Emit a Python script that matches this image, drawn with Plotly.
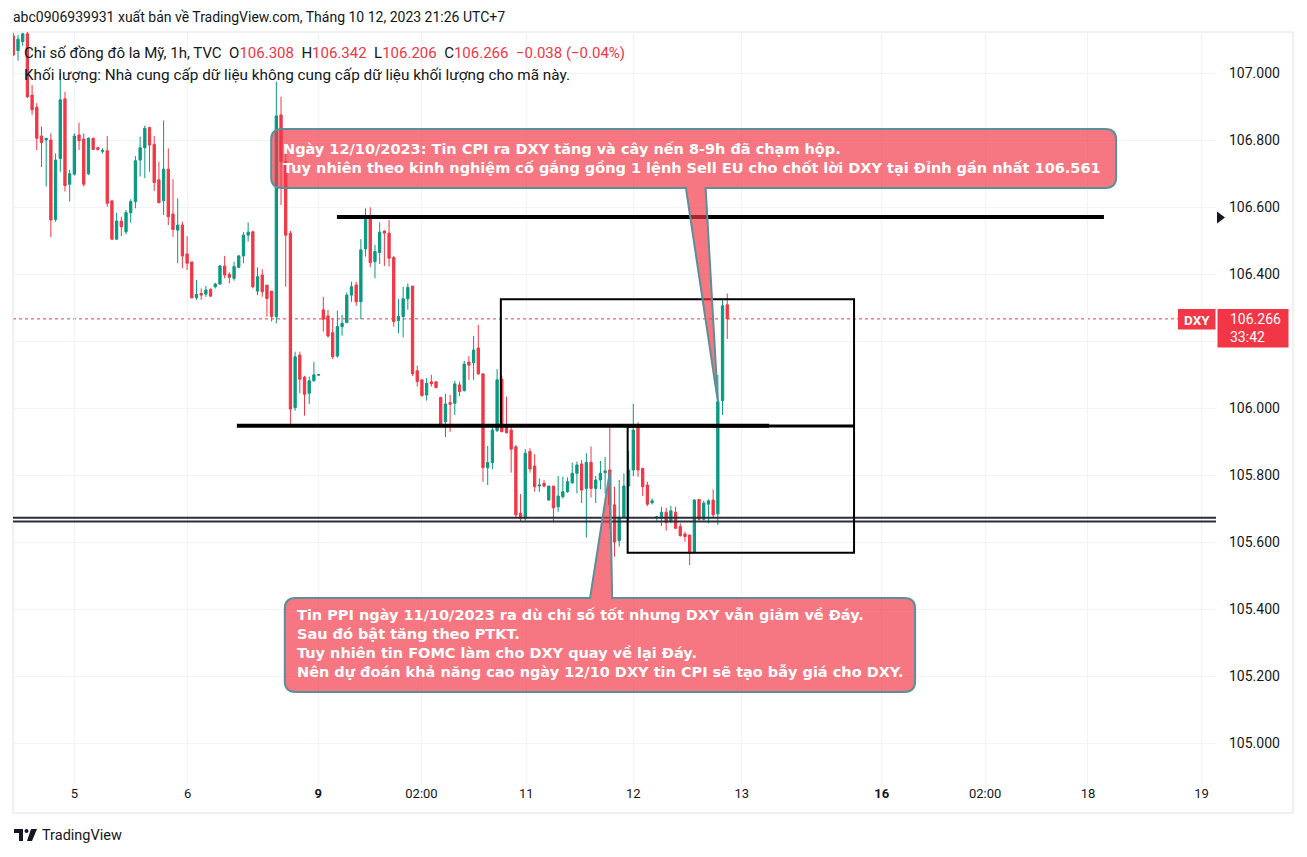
import plotly.graph_objects as go

# ---------------- data ----------------
opens = [107.111,107.067,107.094,107.117,106.934,106.898,106.812,106.800,106.800,106.563,
         106.745,106.923,106.668,106.698,106.815,106.803,106.699,106.805,106.777,106.766,
         106.768,106.618,106.504,106.558,106.526,106.583,106.616,106.740,106.777,106.837,
         106.787,106.681,106.619,106.713,106.579,106.531,106.546,106.460,106.436,106.329,
         106.342,106.340,106.354,106.362,106.370,106.424,106.399,106.387,106.420,106.454,
         106.516,106.526,106.349,106.397,106.367,106.349,106.273,106.875,106.735,106.522,
         106.001,106.158,106.092,106.044,106.081,106.098,106.293,106.275,106.225,106.155,
         106.243,106.255,106.337,106.367,106.317,106.475,106.573,106.437,106.464,106.528,
         106.522,106.449,106.261,106.273,106.326,106.364,106.111,106.084,106.039,106.078,
         106.078,106.032,105.959,106.016,106.014,106.069,106.052,106.137,106.135,106.179,
         106.102,105.822,105.837,105.932,106.086,105.944,105.934,105.884,105.686,105.671,
         105.870,105.827,105.767,105.775,105.725,105.767,105.705,105.735,105.750,105.777,
         105.805,105.833,105.760,105.838,105.760,105.785,105.807,105.815,105.711,105.604,
         105.674,105.767,105.815,105.941,105.820,105.770,105.717,105.673,105.671,105.689,
         105.661,105.689,105.646,105.624,105.621,105.568,105.727,105.668,105.713,105.725,
         105.684,106.022,106.308]
highs = [107.120,107.114,107.120,107.140,106.964,106.910,106.840,106.805,106.820,106.760,
         106.999,106.944,106.711,106.820,106.852,106.820,106.808,106.807,106.780,106.775,
         106.812,106.621,106.583,106.571,106.591,106.623,106.752,106.810,106.843,106.840,
         106.812,106.735,106.858,106.775,106.683,106.626,106.556,106.513,106.436,106.382,
         106.357,106.364,106.357,106.374,106.427,106.454,106.405,106.437,106.457,106.525,
         106.554,106.529,106.420,106.414,106.367,106.349,106.974,106.929,106.770,106.529,
         106.168,106.168,106.096,106.094,106.138,106.102,106.332,106.293,106.268,106.291,
         106.278,106.345,106.377,106.377,106.504,106.596,106.599,106.487,106.554,106.531,
         106.561,106.454,106.325,106.362,106.372,106.364,106.126,106.084,106.089,106.099,
         106.079,106.032,106.042,106.039,106.081,106.079,106.141,106.155,106.215,106.248,
         106.102,105.887,105.942,106.116,106.096,106.034,105.944,105.890,105.743,105.877,
         105.880,105.862,105.790,105.785,105.767,105.767,105.797,105.795,105.793,105.837,
         105.840,105.845,105.865,105.885,105.797,105.842,105.854,105.942,105.765,105.785,
         105.805,105.872,106.012,105.957,105.820,105.780,105.730,105.678,105.705,105.702,
         105.708,105.705,105.656,105.631,105.621,105.728,105.727,105.723,105.727,105.757,
         106.099,106.325,106.342]
lows = [107.051,107.037,107.081,106.925,106.875,106.770,106.719,106.661,106.510,106.556,
        106.705,106.646,106.616,106.694,106.770,106.661,106.696,106.770,106.768,106.760,
        106.601,106.502,106.502,106.513,106.519,106.553,106.596,106.691,106.686,106.705,
        106.648,106.611,106.576,106.546,106.511,106.432,106.417,106.412,106.327,106.323,
        106.323,106.332,106.331,106.357,106.368,106.387,106.372,106.380,106.417,106.432,
        106.497,106.357,106.337,106.332,106.273,106.258,106.253,106.606,106.362,105.949,
        105.992,106.044,105.977,106.012,106.079,106.096,106.228,106.210,106.146,106.150,
        106.216,106.253,106.317,106.305,106.265,106.452,106.420,106.387,106.430,106.424,
        106.422,106.243,106.223,106.211,106.293,106.096,106.064,106.034,106.022,106.064,
        106.059,105.946,105.913,105.929,105.979,106.036,106.049,106.084,106.084,106.099,
        105.780,105.770,105.817,105.929,105.929,105.924,105.807,105.671,105.661,105.664,
        105.807,105.750,105.750,105.763,105.725,105.658,105.690,105.730,105.747,105.773,
        105.745,105.716,105.613,105.733,105.716,105.757,105.745,105.640,105.556,105.586,
        105.671,105.666,105.797,105.795,105.737,105.707,105.712,105.663,105.648,105.634,
        105.656,105.638,105.616,105.601,105.531,105.566,105.664,105.664,105.656,105.674,
        105.651,105.979,106.206]
closes = [107.054,107.101,107.117,106.929,106.890,106.805,106.792,106.805,106.561,106.740,
          106.920,106.664,106.699,106.812,106.798,106.668,106.805,106.772,106.772,106.769,
          106.611,106.504,106.558,106.541,106.583,106.616,106.738,106.777,106.835,106.785,
          106.673,106.613,106.713,106.571,106.533,106.546,106.454,106.432,106.329,106.339,
          106.337,106.352,106.334,106.370,106.424,106.397,106.390,106.422,106.454,106.516,
          106.525,106.362,106.392,106.347,106.327,106.273,106.872,106.735,106.516,105.997,
          106.153,106.086,106.041,106.081,106.099,106.100,106.265,106.215,106.153,106.243,
          106.253,106.337,106.362,106.317,106.472,106.573,106.434,106.467,106.525,106.522,
          106.447,106.258,106.273,106.326,106.360,106.102,106.079,106.037,106.074,106.072,
          106.061,105.949,106.012,106.011,106.072,106.049,106.131,106.128,106.173,106.102,
          105.822,105.837,105.934,106.084,105.929,105.926,105.877,105.681,105.671,105.865,
          105.818,105.765,105.770,105.767,105.767,105.702,105.737,105.750,105.780,105.805,
          105.830,105.755,105.838,105.760,105.785,105.805,105.812,105.711,105.600,105.674,
          105.767,105.815,105.934,105.815,105.765,105.713,105.723,105.675,105.689,105.658,
          105.693,105.641,105.619,105.616,105.566,105.725,105.668,105.716,105.723,105.681,
          106.019,106.305,106.266]

# time-axis labels (positions in bar units)
time_tick_pos = [13.0, 37.1, 64.9, 86.9, 109.2, 132.0, 155.1, 184.9, 206.9, 228.8, 253.0]
time_tick_text = ["5", "6", "<b>9</b>", "02:00", "11", "12", "13", "<b>16</b>", "02:00", "18", "19"]
price_ticks = [105.0, 105.2, 105.4, 105.6, 105.8, 106.0, 106.2, 106.4, 106.6, 106.8, 107.0]
# 106.200 is hidden behind the last-price label in the reference
price_tick_text = ["105.000", "105.200", "105.400", "105.600", "105.800", "106.000", "",
                   "106.400", "106.600", "106.800", "107.000"]

# legend values
legend_ohlc = ["106.308", "106.342", "106.206", "106.266"]
legend_change = "−0.038 (−0.04%)"
countdown = "33:42"

# drawings (levels in price units)
resistance_level = 106.570
support_level = 105.947
bottom_levels = [105.6725, 105.661]
box_upper = dict(x0=103.8, x1=179.0, y0=105.948, y1=106.325)
box_lower = dict(x0=130.8, x1=179.0, y0=105.568, y1=105.945)

callout1_text = ("Ngày 12/10/2023: Tin CPI ra DXY tăng và cây nến 8-9h đã chạm hộp.<br>"
                 "Tuy nhiên theo kinh nghiệm cố gắng gồng 1 lệnh Sell EU cho chốt lời DXY tại Đỉnh gần nhất 106.561")
callout2_text = ("Tin PPI ngày 11/10/2023 ra dù chỉ số tốt nhưng DXY vẫn giảm về Đáy.<br>"
                 "Sau đó bật tăng theo PTKT.<br>"
                 "Tuy nhiên tin FOMC làm cho DXY quay về lại Đáy.<br>"
                 "Nên dự đoán khả năng cao ngày 12/10 DXY tin CPI sẽ tạo bẫy giá cho DXY.")

# ---------------- layout constants ----------------
W, H = 1307, 857
L, R, T, B = 13, 1216, 32, 784
GREEN, RED = "#089981", "#f23645"
TXT = "#131722"
FONT = "Roboto"
CALLOUT_FONT = "DejaVu Sans"
x_range = [-0.064, 256.06]
y_range = [104.8776, 107.1224]

def px(x):
    return (x - L) / (R - L)

def py(y):
    return (B - y) / (B - T)

bars = list(range(len(opens)))

fig = go.Figure()
fig.add_trace(go.Candlestick(
    x=bars, open=opens, high=highs, low=lows, close=closes,
    increasing=dict(line=dict(color=GREEN, width=1), fillcolor=GREEN),
    decreasing=dict(line=dict(color=RED, width=1), fillcolor=RED),
    whiskerwidth=0, hoverinfo="skip", showlegend=False,
))

shapes = []
# last price dotted line
shapes.append(dict(type="line", xref="paper", yref="y", x0=0, x1=px(1178),
                   y0=closes[-1], y1=closes[-1], line=dict(color=RED, width=1, dash="dot"), layer="below"))
# horizontal levels
shapes.append(dict(type="line", xref="x", yref="y", x0=68.9, x1=232.2, y0=resistance_level, y1=resistance_level,
                   line=dict(color="black", width=4)))
shapes.append(dict(type="line", xref="x", yref="y", x0=47.6, x1=160.9, y0=support_level, y1=support_level,
                   line=dict(color="black", width=4)))
for lv in bottom_levels:
    shapes.append(dict(type="line", xref="paper", yref="y", x0=0, x1=1, y0=lv, y1=lv,
                       line=dict(color="#2a2e39", width=2)))
# boxes
shapes.append(dict(type="rect", xref="x", yref="y", line=dict(color="black", width=2), **box_upper))
shapes.append(dict(type="rect", xref="x", yref="y", line=dict(color="black", width=2), **box_lower))

# callouts
def callout(x0, x1, yt, yb, tb0, tb1, tipx, tipy, side):
    rx, ry = 2.3, 0.032
    if side == "bottom":
        p = (f"M{x0+rx},{yt} L{x1-rx},{yt} Q{x1},{yt} {x1},{yt-ry} L{x1},{yb+ry} Q{x1},{yb} {x1-rx},{yb} "
             f"L{tb1},{yb} L{tipx},{tipy} L{tb0},{yb} L{x0+rx},{yb} Q{x0},{yb} {x0},{yb+ry} "
             f"L{x0},{yt-ry} Q{x0},{yt} {x0+rx},{yt} Z")
    else:
        p = (f"M{x0+rx},{yt} L{tb0},{yt} L{tipx},{tipy} L{tb1},{yt} L{x1-rx},{yt} Q{x1},{yt} {x1},{yt-ry} "
             f"L{x1},{yb+ry} Q{x1},{yb} {x1-rx},{yb} L{x0+rx},{yb} Q{x0},{yb} {x0},{yb+ry} "
             f"L{x0},{yt-ry} Q{x0},{yt} {x0+rx},{yt} Z")
    return dict(type="path", xref="x", yref="y", path=p,
                fillcolor="rgba(242,54,69,0.68)", line=dict(color="#5b8f9a", width=2))

shapes.append(callout(54.9, 234.8, 106.833, 106.657, 143.2, 147.4, 150, 106.02, "bottom"))
shapes.append(callout(57.8, 192.0, 105.433, 105.152, 122.8, 127.5, 127.0, 105.81, "top"))

# frame
shapes.append(dict(type="rect", xref="paper", yref="paper", x0=px(13), x1=px(1293), y0=py(813), y1=py(32),
                   line=dict(color="#e0e3eb", width=1), layer="below"))
# price labels on axis
shapes.append(dict(type="rect", xref="paper", yref="paper", x0=px(1178), x1=px(1215.5), y0=py(329.5), y1=py(309),
                   fillcolor=RED, line=dict(width=0)))
shapes.append(dict(type="rect", xref="paper", yref="paper", x0=px(1217.5), x1=px(1288.5), y0=py(347.5), y1=py(309),
                   fillcolor=RED, line=dict(width=0)))
# triangle marker on scale
shapes.append(dict(type="path", xref="paper", yref="paper",
                   path=f"M{px(1217)},{py(211.5)} L{px(1225)},{py(217.5)} L{px(1217)},{py(223.5)} Z",
                   fillcolor=TXT, line=dict(width=0)))
# TradingView logo
shapes.append(dict(type="path", xref="paper", yref="paper",
                   path=(f"M{px(14)},{py(829)} L{px(23)},{py(829)} L{px(23)},{py(841)} L{px(19)},{py(841)} "
                         f"L{px(19)},{py(833)} L{px(14)},{py(833)} Z"),
                   fillcolor=TXT, line=dict(width=0)))
shapes.append(dict(type="circle", xref="paper", yref="paper", x0=px(24.5), x1=px(28.5), y0=py(833), y1=py(829),
                   fillcolor=TXT, line=dict(width=0)))
shapes.append(dict(type="path", xref="paper", yref="paper",
                   path=f"M{px(31)},{py(829)} L{px(37)},{py(829)} L{px(32)},{py(841)} L{px(27)},{py(841)} Z",
                   fillcolor=TXT, line=dict(width=0)))

annotations = []
def note(text, x, y, size=13, color=TXT, xanchor="left", bold=False, xref="paper", yref="paper", family=FONT):
    annotations.append(dict(text=f"<b>{text}</b>" if bold else text, x=x, y=y, xref=xref, yref=yref,
                            xanchor=xanchor, yanchor="middle", showarrow=False, align="left",
                            font=dict(family=family, size=size, color=color)))

nb = "\u00a0"
def red(s):
    return f"<span style='color:{RED}'>{s}</span>"

note("abc0906939931 xuất bản về TradingView.com, Tháng 10 12, 2023 21:26 UTC+7", px(11), py(17), size=14)
legend_line = (f"Chỉ số đồng đô la Mỹ, 1h, TVC{nb*2}O{red(legend_ohlc[0])}{nb*2}H{red(legend_ohlc[1])}"
               f"{nb*2}L{red(legend_ohlc[2])}{nb*2}C{red(legend_ohlc[3])}{nb*2}{red(legend_change)}")
note(legend_line, px(22), py(53), size=15)
note("Khối lượng: Nhà cung cấp dữ liệu không cung cấp dữ liệu khối lượng cho mã này.", px(22), py(75), size=15.3)

note(callout1_text, 56.9, 106.745, size=14.5, color="white", bold=True, xref="x", yref="y", family=CALLOUT_FONT)
note(callout2_text, 59.9, 105.297, size=14.5, color="white", bold=True, xref="x", yref="y", family=CALLOUT_FONT)

note("DXY", px(1196.7), py(319.5), size=13.5, color="white", xanchor="center", bold=True)
note(f"{legend_ohlc[3]}<br>{countdown}", px(1228), py(328.5), size=14, color="white")
note("TradingView", px(40), py(835.5), size=14.5)

fig.update_layout(
    width=W, height=H,
    margin=dict(l=L, r=W - R, t=T, b=H - B),
    paper_bgcolor="white", plot_bgcolor="white",
    shapes=shapes, annotations=annotations,
    showlegend=False,
    font=dict(family=FONT, color=TXT, size=13),
    xaxis=dict(range=x_range, rangeslider=dict(visible=False), tickmode="array",
               tickvals=time_tick_pos, ticktext=time_tick_text, showgrid=True, gridcolor="#f0f3fa",
               gridwidth=1, zeroline=False, showline=False, ticks="", tickfont=dict(size=13, color=TXT),
               fixedrange=True),
    yaxis=dict(range=y_range, side="right", tickmode="array", tickvals=price_ticks,
               ticktext=price_tick_text, showgrid=True, gridcolor="#f0f3fa",
               gridwidth=1, zeroline=False, showline=False, ticks="", ticklabelstandoff=12,
               tickfont=dict(size=14, color=TXT), fixedrange=True),
)

fig.write_html("out.html")
